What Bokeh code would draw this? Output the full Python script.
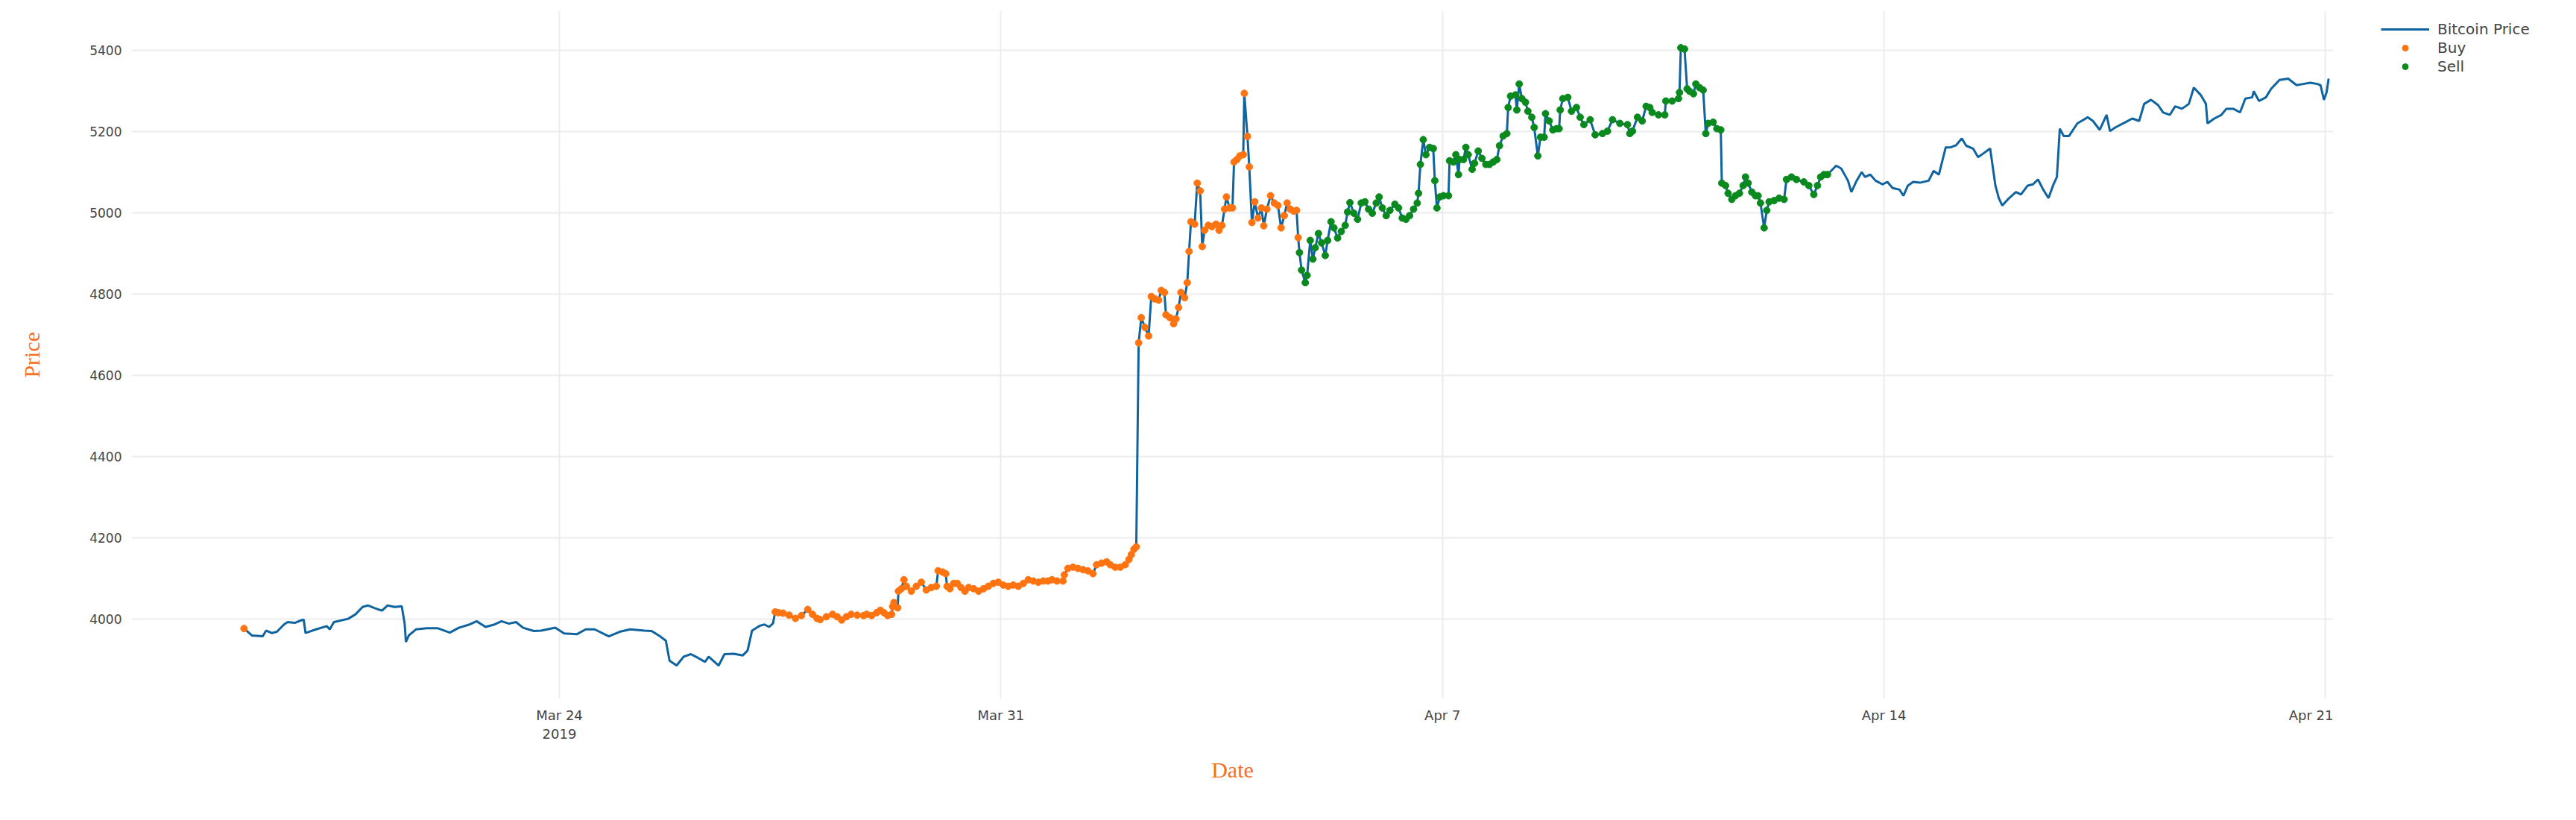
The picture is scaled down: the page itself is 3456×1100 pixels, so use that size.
import pandas as pd
from bokeh.plotting import figure
from bokeh.layouts import row
from bokeh.models import ColumnDataSource, FixedTicker, Legend, LegendItem, Range1d
from bokeh.embed import file_html
from bokeh.resources import INLINE

# ---------------- data (hours after 2019-03-19 00:00, price in USD) ----------------
START = "2019-03-19 00:00"

hours_a = [0.0, 3.0, 7.1, 8.4, 10.5, 12.5, 15.2, 16.6, 19.3, 22.0, 22.7, 23.4, 27.4, 31.5, 32.6,
           34.2, 39.6, 42.4, 45.1, 47.1, 49.8, 52.5, 54.6, 57.3, 60.0, 61.1, 61.6, 62.7, 65.4,
           69.5, 73.6, 78.3, 81.7, 85.8, 88.5, 91.9, 95.3, 98.0, 100.8, 103.5, 106.2, 110.3,
           113.0, 118.4, 121.8, 126.6, 130.0, 133.4, 138.8, 142.9, 146.9, 152.4, 155.1, 158.5,
           160.5, 161.9, 164.6, 167.3, 170.0, 172.7, 175.4, 176.8, 180.6, 182.8, 186.3, 189.8,
           191.6, 193.3, 196.3, 198.0, 199.8, 201.3]
price_a = [3977, 3960, 3958, 3972, 3966, 3969, 3987, 3993, 3991, 3998, 3999, 3966, 3975, 3983, 3975,
           3993, 4001, 4012, 4030, 4034, 4027, 4021, 4034, 4030, 4032, 3990, 3944, 3960, 3975,
           3978, 3978, 3967, 3979, 3987, 3995, 3981, 3987, 3995, 3989, 3993, 3979, 3971,
           3972, 3979, 3965, 3963, 3975, 3975, 3958, 3969, 3975, 3972, 3971, 3957,
           3947, 3898, 3886, 3908, 3914, 3905, 3895, 3908, 3886, 3914, 3915, 3911,
           3923, 3972, 3984, 3987, 3981, 3990]

hours_buy = [202.1, 203.3, 205.1, 207.4, 209.8, 212.1, 214.5, 216.3, 218.0, 219.2, 221.6, 223.9,
             225.7, 227.4, 229.2, 231.0, 233.3, 235.7, 236.9, 238.8, 240.7, 242.1, 243.5, 244.9,
             246.4, 246.8, 247.3, 248.7, 249.0, 250.1, 251.1, 252.0, 253.9, 255.8, 257.7, 259.6,
             261.5, 263.4, 264.1, 265.8, 267.0, 267.5, 268.6, 270.0, 271.4, 272.8, 274.3, 275.7,
             277.6, 279.5, 281.4, 283.2, 285.1, 287.0, 288.9, 290.8, 292.7, 294.6, 296.5, 298.4,
             300.3, 302.2, 304.1, 305.9, 307.4, 309.3, 311.6, 312.1, 313.5, 315.4, 317.3, 319.2,
             321.1, 323.0, 324.4, 326.3, 328.2, 329.6, 331.5, 333.4, 335.3, 336.7, 337.6, 338.6,
             339.5, 340.4, 341.4, 342.8, 344.2, 345.2, 346.6, 348.0, 349.0, 350.2, 350.8, 352.3,
             353.7, 354.6, 355.6, 356.5, 357.9, 358.9, 359.6, 360.3, 361.7, 362.7, 363.8, 364.6,
             365.5, 366.9, 368.3, 369.8, 371.0, 372.1, 373.1, 373.8, 375.0, 376.1, 376.7, 377.8,
             378.9, 380.2, 380.6, 381.8, 382.5, 383.5, 384.6, 385.8, 387.1, 388.0, 389.2, 390.6,
             392.0, 393.4, 394.6, 395.8, 396.9, 398.1, 399.4, 400.5, 401.1]
price_buy = [4018, 4016, 4015, 4010, 4002, 4009, 4024, 4012, 4002, 3999, 4006, 4012,
             4006, 3998, 4006, 4012, 4010, 4009, 4012, 4009, 4016, 4022, 4016, 4009,
             4012, 4031, 4041, 4028, 4069, 4075, 4097, 4081, 4069, 4081, 4091, 4072,
             4078, 4081, 4119, 4116, 4112, 4081, 4075, 4088, 4088, 4078, 4069, 4078,
             4075, 4069, 4075, 4081, 4088, 4091, 4084, 4081, 4084, 4081, 4088, 4097,
             4094, 4091, 4094, 4094, 4097, 4094, 4094, 4109, 4125, 4128, 4125, 4122,
             4119, 4112, 4134, 4138, 4141, 4134, 4128, 4128, 4134, 4147, 4159, 4172,
             4178, 4680, 4742, 4718, 4697, 4794, 4788, 4785, 4809, 4804, 4749, 4742,
             4727, 4739, 4767, 4804, 4791, 4828, 4905, 4978, 4972, 5073, 5054, 4917,
             4957, 4969, 4966, 4972, 4957, 4969, 5009, 5039, 5012, 5012, 5125, 5131,
             5140, 5143, 5294, 5188, 5113, 4976, 5027, 4987, 5012, 4968, 5009, 5042,
             5024, 5018, 4963, 4993, 5024, 5009, 5004, 5006, 4939]

hours_sell = [401.6, 402.4, 403.8, 404.5, 405.7, 406.7, 407.6, 408.8, 410.0, 411.4, 412.3, 413.6,
              414.7, 416.1, 417.5, 419.0, 419.9, 420.8, 422.3, 423.7, 425.1, 426.5, 427.9, 429.3,
              430.8, 431.9, 433.1, 434.6, 436.0, 437.9, 439.3, 440.7, 442.1, 443.5, 445.0, 446.4,
              446.9, 447.6, 448.7, 449.7, 451.1, 452.5, 453.1, 453.9, 455.0, 456.4, 458.3, 458.7,
              460.2, 461.1, 462.1, 462.5, 464.0, 464.9, 465.8, 467.3, 468.2, 469.6, 471.0, 472.5,
              473.9, 475.3, 476.7, 477.7, 479.1, 480.5, 481.0, 481.9, 483.8, 484.3, 485.2, 486.2,
              487.6, 488.5, 490.0, 490.9, 492.3, 493.3, 494.7, 495.2, 496.6, 498.0, 499.4, 500.4,
              500.8, 501.8, 503.7, 505.1, 507.0, 508.4, 509.8, 512.2, 514.1, 516.9, 518.8, 520.7,
              523.5, 526.4, 527.3, 528.3, 530.2, 532.0, 533.5, 534.9, 535.8, 538.2, 540.6, 541.0,
              543.4, 545.8, 546.2, 546.7, 548.1, 549.1, 550.0, 551.5, 552.4, 553.8, 555.2, 556.2,
              557.1, 559.0, 560.4, 561.9, 562.3, 563.7, 564.7, 566.1, 567.5, 569.0, 570.4, 571.3,
              572.3, 573.7, 575.1, 576.1, 577.0, 578.4, 579.4, 580.3, 582.2, 584.1, 586.0, 586.9,
              588.8, 590.7, 593.5, 595.4, 597.3, 598.7, 599.9, 601.2, 602.5]
price_sell = [4902, 4859, 4828, 4846, 4932, 4886, 4914, 4949, 4926, 4895, 4932, 4978,
              4963, 4938, 4954, 4969, 5002, 5025, 4999, 4984, 5024, 5027, 5009, 4999,
              5024, 5039, 5012, 4993, 5006, 5021, 5012, 4987, 4984, 4993, 5009, 5024,
              5048, 5119, 5180, 5143, 5161, 5158, 5079, 5012, 5039, 5042, 5042, 5128,
              5125, 5143, 5094, 5131, 5131, 5161, 5143, 5107, 5122, 5152, 5134, 5119,
              5119, 5125, 5131, 5165, 5189, 5195, 5259, 5287, 5290, 5253, 5317, 5281,
              5272, 5250, 5235, 5210, 5140, 5186, 5186, 5244, 5226, 5204, 5207, 5207,
              5253, 5281, 5284, 5250, 5259, 5235, 5217, 5229, 5192, 5195, 5201, 5229,
              5220, 5217, 5195, 5201, 5235, 5226, 5262, 5259, 5247, 5241, 5241, 5275,
              5275, 5281, 5296, 5406, 5403, 5305, 5299, 5293, 5317, 5308, 5302, 5195,
              5220, 5223, 5207, 5204, 5073, 5067, 5048, 5033, 5042, 5048, 5067, 5088,
              5073, 5051, 5042, 5042, 5024, 4963, 5006, 5027, 5030, 5036, 5033, 5082,
              5088, 5082, 5076, 5067, 5045, 5067, 5088, 5094, 5094]

hours_b = [605.8, 607.7, 610.3, 611.6, 613.6, 615.5, 616.8, 618.8, 620.8, 623.4, 625.3, 627.3,
           629.9, 631.4, 633.1, 635.1, 637.7, 641.0, 642.9, 644.9, 647.5, 649.4, 651.4, 653.6,
           655.3, 657.9, 659.8, 661.8, 664.4, 666.4, 667.7, 669.0, 671.6, 674.2, 676.1, 678.7,
           680.7, 682.6, 684.6, 686.6, 688.5, 689.8, 690.9, 692.4, 694.4, 697.6, 701.5, 703.5,
           706.1, 708.7, 710.0, 712.0, 715.9, 718.5, 721.1, 723.0, 725.6, 728.3, 730.2, 732.8,
           734.8, 737.4, 740.0, 741.9, 744.5, 746.5, 747.1, 749.7, 752.4, 754.3, 756.9, 759.5,
           761.5, 764.1, 764.7, 766.7, 769.3, 771.3, 774.5, 777.8, 781.0, 783.6, 786.2, 788.9,
           790.1, 791.4, 792.4, 793.2]
price_b = [5116, 5109, 5079, 5051, 5079, 5100, 5088, 5094, 5079, 5070, 5076, 5061,
           5057, 5042, 5067, 5076, 5074, 5079, 5103, 5094, 5161, 5161, 5166, 5183,
           5165, 5158, 5137, 5146, 5158, 5067, 5036, 5018, 5036, 5051, 5045, 5067,
           5070, 5082, 5057, 5036, 5070, 5088, 5207, 5189, 5189, 5220, 5235, 5226,
           5204, 5241, 5201, 5210, 5223, 5232, 5226, 5268, 5278, 5265, 5247, 5241,
           5262, 5256, 5268, 5308, 5290, 5268, 5220, 5232, 5241, 5256, 5256, 5247,
           5281, 5284, 5299, 5275, 5284, 5305, 5327, 5330, 5314, 5317, 5320, 5317,
           5314, 5278, 5296, 5330]

x_tick_dates = ["2019-03-24", "2019-03-31", "2019-04-07", "2019-04-14", "2019-04-21"]
x_tick_labels = ["Mar 24\n2019", "Mar 31", "Apr 7", "Apr 14", "Apr 21"]
y_ticks = [4000, 4200, 4400, 4600, 4800, 5000, 5200, 5400]
x_range_hours = (-42.8, 795.0)
y_range_vals = (3804, 5497)
legend_labels = ["Bitcoin Price", "Buy", "Sell"]

# ---------------- build ----------------
t0 = pd.Timestamp(START)


def to_dt(hs):
    return [t0 + pd.Timedelta(hours=h) for h in hs]


line_src = ColumnDataSource(dict(
    x=to_dt(hours_a + hours_buy + hours_sell + hours_b),
    y=price_a + price_buy + price_sell + price_b))
buy_src = ColumnDataSource(dict(x=to_dt([hours_a[0]] + hours_buy), y=[price_a[0]] + price_buy))
sell_src = ColumnDataSource(dict(x=to_dt(hours_sell), y=price_sell))

BLUE = "#0f64a0"
ORANGE = "#ff7410"
GREEN = "#0a8a1e"
TITLE_COLOR = "#f5701e"
H = 1084

p = figure(width=3130, height=H, x_axis_type="datetime",
           output_backend="svg", toolbar_location=None,
           x_range=Range1d(t0 + pd.Timedelta(hours=x_range_hours[0]),
                           t0 + pd.Timedelta(hours=x_range_hours[1])),
           y_range=Range1d(*y_range_vals),
           min_border_left=176, min_border_right=0,
           min_border_top=14, min_border_bottom=147)
p.outline_line_color = None
p.background_fill_color = "white"
p.border_fill_color = "white"

line_style = dict(line_color=BLUE, line_width=3)
buy_style = dict(size=9, marker="circle", fill_color=ORANGE, line_color=ORANGE)
sell_style = dict(size=9, marker="circle", fill_color=GREEN, line_color=GREEN)

p.line("x", "y", source=line_src, **line_style)
p.scatter("x", "y", source=buy_src, **buy_style)
p.scatter("x", "y", source=sell_src, **sell_style)

tick_ms = [pd.Timestamp(d).value / 1e6 for d in x_tick_dates]
p.xaxis.ticker = FixedTicker(ticks=tick_ms)
p.xaxis.major_label_overrides = {ms: lab for ms, lab in zip(tick_ms, x_tick_labels)}
p.yaxis.ticker = FixedTicker(ticks=y_ticks)

for ax in (p.xaxis, p.yaxis):
    ax.axis_line_color = None
    ax.major_tick_line_color = None
    ax.minor_tick_line_color = None
    ax.major_label_text_font = "DejaVu Sans"
    ax.major_label_text_color = "#444444"
    ax.axis_label_text_font = "Liberation Serif"
    ax.axis_label_text_font_style = "normal"
    ax.axis_label_text_color = TITLE_COLOR
    ax.axis_label_text_font_size = "30px"

p.xaxis.major_label_text_font_size = "18px"
p.yaxis.major_label_text_font_size = "17px"
p.xaxis.axis_label = "Date"
p.yaxis.axis_label = "Price"
p.xaxis.major_label_standoff = 5
p.xaxis.axis_label_standoff = 18
p.yaxis.major_label_standoff = 7
p.yaxis.axis_label_standoff = 58

p.xgrid.grid_line_color = "#ececec"
p.ygrid.grid_line_color = "#ececec"
p.xgrid.grid_line_width = 2
p.ygrid.grid_line_width = 2

# ---- legend panel to the right of the plot area (same top border as the plot) ----
lp = figure(width=310, height=H, output_backend="svg", toolbar_location=None,
            x_range=Range1d(0, 1), y_range=Range1d(0, 1),
            x_axis_location=None, y_axis_location=None,
            min_border_left=51, min_border_right=0, min_border_top=14, min_border_bottom=147)
lp.outline_line_color = None
lp.grid.visible = False
lp.background_fill_color = "white"
lp.border_fill_color = "white"
# legend keys: one off-screen sample each, so the key glyphs are drawn
key_src = ColumnDataSource(dict(x=[-5.0, -6.0], y=[-5.0, -6.0]))
k_line = lp.line("x", "y", source=key_src, **line_style)
k_buy = lp.scatter("x", "y", source=key_src, **buy_style)
k_sell = lp.scatter("x", "y", source=key_src, **sell_style)

legend = Legend(items=[LegendItem(label=legend_labels[0], renderers=[k_line]),
                       LegendItem(label=legend_labels[1], renderers=[k_buy]),
                       LegendItem(label=legend_labels[2], renderers=[k_sell])],
                location="top_left")
legend.padding = 0
legend.margin = 13
legend.spacing = 1
legend.glyph_width = 65
legend.glyph_height = 20
legend.label_height = 20
legend.label_standoff = 11
legend.border_line_color = None
legend.background_fill_alpha = 0
legend.label_text_font = "DejaVu Sans"
legend.label_text_font_size = "20px"
legend.label_text_color = "#444444"
lp.add_layout(legend)

layout = row(p, lp, spacing=0)
open("out.html", "w").write(file_html(layout, INLINE))
